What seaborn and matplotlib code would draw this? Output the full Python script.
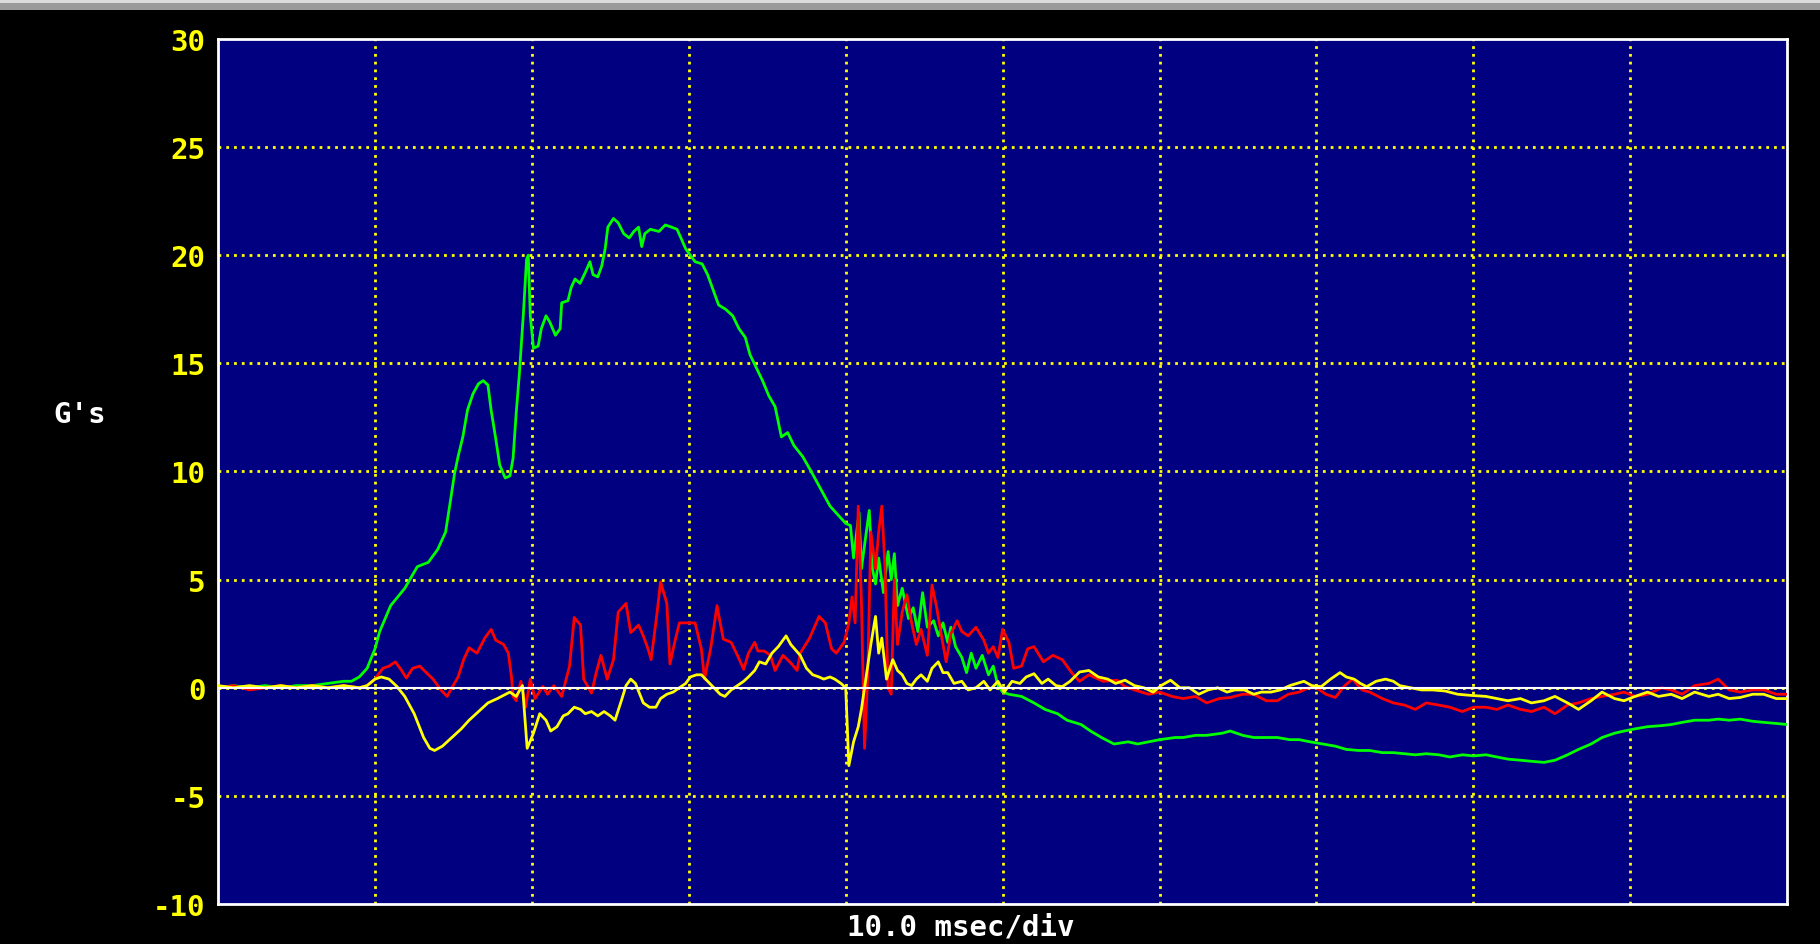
import numpy as np
import pandas as pd
import matplotlib
matplotlib.use("Agg")
import matplotlib.pyplot as plt
from matplotlib.patches import Rectangle
import seaborn as sns

# Channel traces (time in msec, acceleration in G's)
green_t = [0, 1, 2, 3, 4, 5, 6, 7, 8, 8.5, 9, 9.5, 10, 10.3, 11.0, 11.9, 12.7, 13.4, 14.0, 14.5,
           14.8, 15.07, 15.3, 15.6, 15.9, 16.25, 16.6, 16.9, 17.2, 17.4, 17.7, 17.95, 18.3, 18.6,
           18.8, 19.0, 19.2, 19.45, 19.66, 19.77, 19.9, 20.1, 20.4, 20.6, 20.9, 21.15, 21.5, 21.8,
           21.9, 22.3, 22.5, 22.75, 23.07, 23.4, 23.7, 23.9, 24.2, 24.45, 24.67, 24.84, 25.2, 25.5,
           25.85, 26.2, 26.5, 26.8, 27.0, 27.2, 27.55, 28.1, 28.5, 28.9, 29.25, 29.5, 29.8, 30.1,
           30.4, 30.85, 31.2, 31.5, 31.9, 32.35, 32.8, 33.2, 33.6, 33.9, 34.3, 34.7, 35.1, 35.5,
           35.9, 36.3, 36.7, 37.25, 37.8, 38.4, 39.0, 39.5, 40.0, 40.3, 40.5, 40.85, 41.0, 41.2,
           41.5, 41.7, 41.9, 42.1, 42.4, 42.7, 42.9, 43.1, 43.3, 43.6, 44.0, 44.3, 44.6, 44.9,
           45.2, 45.6, 45.9, 46.2, 46.5, 46.7, 47.0, 47.4, 47.7, 48.0, 48.3, 48.7, 49.1, 49.4,
           49.7, 50.0, 50.4, 51.2, 52, 52.7, 53.5, 54.1, 55, 55.6, 56.3, 57.1, 58, 58.6, 59.3, 60,
           61, 61.5, 62.3, 63, 64, 64.5, 65.3, 66, 67, 67.5, 68.3, 68.9, 69.6, 70.4, 71.2, 71.9,
           72.7, 73.4, 74.2, 74.9, 75.6, 76.3, 77, 77.8, 78.5, 79.3, 80, 80.8, 81.5, 82.2, 83,
           83.7, 84.5, 85.2, 86, 86.7, 87.5, 88.2, 89, 89.6, 90.3, 91.1, 92, 92.6, 93.3, 94.1, 95,
           95.6, 96.3, 97, 97.8, 98.5, 99.3, 100]
green_g = [0.0, 0.1, 0.0, 0.1, 0.0, 0.1, 0.1, 0.2, 0.3, 0.3, 0.5, 0.9, 1.8, 2.6, 3.8, 4.6, 5.6, 5.8,
           6.4, 7.2, 8.6, 9.9, 10.7, 11.6, 12.85, 13.6, 14.06, 14.2, 14.0, 12.85, 11.5, 10.3, 9.7,
           9.8, 10.6, 12.7, 14.5, 17.2, 19.8, 20.0, 17.2, 15.7, 15.8, 16.6, 17.2, 16.9, 16.3, 16.6,
           17.8, 17.9, 18.5, 18.9, 18.7, 19.2, 19.7, 19.1, 19.0, 19.5, 20.3, 21.3, 21.7, 21.5, 21.0,
           20.8, 21.1, 21.3, 20.4, 21.0, 21.2, 21.1, 21.4, 21.3, 21.2, 20.8, 20.3, 20.0, 19.7, 19.6,
           19.1, 18.5, 17.7, 17.5, 17.2, 16.6, 16.2, 15.4, 14.8, 14.2, 13.5, 13.0, 11.6, 11.8, 11.2,
           10.7, 10.0, 9.2, 8.4, 8.0, 7.6, 7.5, 6.0, 8.1, 5.5, 6.6, 8.2, 5.5, 4.8, 6.0, 4.4, 6.3,
           5.0, 6.2, 3.8, 4.6, 3.2, 3.7, 2.6, 4.4, 2.8, 3.1, 2.4, 3.0, 2.1, 2.8, 1.9, 1.4, 0.7, 1.6,
           0.9, 1.5, 0.6, 1.0, 0.1, -0.2, -0.3, -0.4, -0.7, -1.0, -1.2, -1.5, -1.7, -2.0, -2.3,
           -2.6, -2.5, -2.6, -2.5, -2.4, -2.3, -2.3, -2.2, -2.2, -2.1, -2.0, -2.2, -2.3, -2.3, -2.3,
           -2.4, -2.4, -2.5, -2.6, -2.7, -2.85, -2.9, -2.9, -3.0, -3.0, -3.05, -3.1, -3.05, -3.1,
           -3.2, -3.1, -3.15, -3.1, -3.2, -3.3, -3.35, -3.4, -3.45, -3.35, -3.1, -2.85, -2.6, -2.3,
           -2.1, -2.0, -1.9, -1.8, -1.75, -1.7, -1.6, -1.5, -1.5, -1.45, -1.5, -1.45, -1.55, -1.6,
           -1.65, -1.7]

red_t = [0, 1, 2, 3, 4, 5, 6, 7, 8, 9, 9.5, 10, 10.5, 10.9, 11.3, 11.7, 12.0, 12.4, 12.85, 13.2,
         13.7, 14.2, 14.6, 14.9, 15.3, 15.65, 16.0, 16.5, 17.0, 17.4, 17.7, 18.2, 18.5, 18.7, 18.8,
         19.0, 19.3, 19.6, 19.9, 20.2, 20.7, 21.0, 21.4, 21.9, 22.4, 22.7, 23.1, 23.3, 23.8, 24.1,
         24.4, 24.8, 25.2, 25.5, 26.0, 26.3, 26.8, 27.1, 27.4, 27.6, 28.0, 28.2, 28.6, 28.8, 29.1,
         29.4, 29.9, 30.4, 30.8, 31.0, 31.4, 31.8, 32.0, 32.2, 32.7, 33.1, 33.5, 33.8, 34.2, 34.4,
         34.8, 35.2, 35.5, 36.0, 36.5, 36.9, 37.1, 37.7, 38.3, 38.7, 39.1, 39.4, 39.9, 40.2, 40.4,
         40.6, 40.8, 41.0, 41.2, 41.4, 41.6, 41.9, 42.1, 42.3, 42.5, 42.7, 42.9, 43.1, 43.3, 43.6,
         43.9, 44.2, 44.5, 44.8, 45.2, 45.5, 45.8, 46.1, 46.4, 46.7, 47.1, 47.4, 47.8, 48.3, 48.8,
         49.1, 49.4, 49.7, 50.0, 50.4, 50.7, 51.2, 51.6, 52.0, 52.6, 53.2, 53.8, 54.4, 54.9, 55.5,
         56.4, 57.3, 57.8, 58.4, 59.3, 60, 60.8, 61.5, 62.3, 63, 63.8, 64.5, 65.3, 66, 66.8, 67.5,
         68.2, 68.9, 69.5, 70, 70.6, 71.2, 71.8, 72.3, 72.9, 73.4, 74.2, 74.9, 75.6, 76.3, 77,
         77.8, 78.5, 79.3, 80, 80.8, 81.5, 82.2, 83, 83.7, 84.5, 85.2, 86, 86.7, 87.5, 88.2, 89,
         89.6, 90.3, 91.1, 92, 92.6, 93.3, 94.1, 95, 95.6, 96.3, 97, 97.8, 98.5, 99.3, 100]
red_g = [0.0, 0.1, -0.1, 0.0, 0.1, 0.0, 0.1, 0.0, 0.1, 0.0, 0.1, 0.4, 0.9, 1.0, 1.2, 0.8, 0.45, 0.9,
         1.0, 0.75, 0.4, -0.1, -0.4, 0.0, 0.5, 1.3, 1.85, 1.6, 2.3, 2.7, 2.2, 2.0, 1.6, 0.5, -0.4,
         -0.6, 0.3, -0.9, 0.4, -0.5, 0.06, -0.3, 0.1, -0.4, 1.0, 3.25, 2.9, 0.4, -0.25, 0.7, 1.5,
         0.4, 1.3, 3.5, 3.9, 2.55, 2.9, 2.4, 1.8, 1.3, 3.6, 4.9, 3.9, 1.1, 2.1, 3.0, 3.0, 3.0, 1.8,
         0.4, 1.85, 3.8, 3.0, 2.25, 2.1, 1.5, 0.85, 1.6, 2.1, 1.7, 1.7, 1.5, 0.8, 1.5, 1.15, 0.8,
         1.6, 2.3, 3.3, 3.0, 1.8, 1.6, 2.1, 3.0, 4.2, 3.0, 8.4, 4.0, -2.8, 0.5, 7.2, 5.5, 7.2, 8.4,
         5.6, 0.0, -0.3, 5.0, 2.0, 3.5, 4.3, 3.0, 2.0, 2.7, 1.5, 4.75, 3.7, 2.4, 1.2, 2.5, 3.1, 2.6,
         2.4, 2.8, 2.2, 1.6, 1.9, 1.4, 2.7, 2.1, 0.9, 1.0, 1.8, 1.9, 1.2, 1.5, 1.3, 0.7, 0.3, 0.6,
         0.3, 0.35, 0.05, -0.1, -0.3, -0.2, -0.4, -0.5, -0.4, -0.7, -0.5, -0.45, -0.3, -0.3, -0.6,
         -0.6, -0.3, -0.2, 0.0, 0.0, -0.3, -0.45, 0.1, 0.4, -0.1, -0.2, -0.5, -0.7, -0.8, -1.0,
         -0.7, -0.8, -0.9, -1.1, -0.9, -0.9, -1.0, -0.8, -1.0, -1.1, -0.9, -1.2, -0.8, -0.7, -0.5,
         -0.4, -0.3, -0.2, -0.4, -0.3, 0.0, -0.1, -0.3, 0.1, 0.2, 0.4, -0.1, -0.2, -0.1, -0.1,
         -0.3, -0.3]

yellow_t = [0, 1, 2, 3, 4, 5, 6, 7, 8, 9, 9.5, 10, 10.4, 10.9, 11.4, 11.9, 12.5, 13.1, 13.5, 13.8,
            14.3, 14.9, 15.5, 16.0, 16.6, 17.2, 17.8, 18.6, 19.0, 19.4, 19.7, 20.1, 20.5, 20.9,
            21.2, 21.6, 22.0, 22.3, 22.7, 23.1, 23.4, 23.8, 24.2, 24.6, 25.0, 25.3, 25.7, 26.0,
            26.3, 26.6, 27.1, 27.5, 27.9, 28.2, 28.6, 29.0, 29.4, 29.8, 30.1, 30.5, 30.8, 31.2,
            31.6, 32.0, 32.3, 32.7, 33.1, 33.5, 33.8, 34.2, 34.5, 34.9, 35.3, 35.7, 36.2, 36.5,
            37.1, 37.5, 37.9, 38.3, 38.6, 39.0, 39.3, 39.7, 40.0, 40.2, 40.5, 40.8, 41.0, 41.2,
            41.4, 41.6, 41.9, 42.1, 42.3, 42.6, 43.0, 43.3, 43.6, 43.9, 44.2, 44.5, 44.8, 45.2,
            45.5, 45.9, 46.2, 46.5, 46.9, 47.4, 47.8, 48.3, 48.8, 49.2, 49.7, 50.1, 50.6, 51.1,
            51.5, 52.0, 52.5, 52.9, 53.4, 53.8, 54.3, 54.9, 55.5, 56.1, 56.7, 57.2, 57.8, 58.4,
            59.0, 59.6, 60.1, 60.7, 61.3, 61.9, 62.5, 63.1, 63.7, 64.3, 64.8, 65.4, 66, 66.5, 67.1,
            67.7, 68.3, 69.2, 69.7, 70.3, 70.9, 71.5, 71.9, 72.4, 72.8, 73.2, 73.8, 74.4, 74.9,
            75.3, 76, 76.7, 77.4, 78.2, 79, 79.8, 80.8, 81.5, 82.2, 83, 83.7, 84.5, 85.2, 86, 86.7,
            87.5, 88.2, 89, 89.6, 90.3, 91.1, 91.8, 92.6, 93.3, 94.1, 95, 95.6, 96.3, 97, 97.8,
            98.5, 99.3, 100]
yellow_g = [0.1, 0.0, 0.1, 0.0, 0.1, 0.0, 0.1, 0.0, 0.1, 0.0, 0.1, 0.4, 0.5, 0.4, 0.06, -0.4, -1.2,
            -2.3, -2.8, -2.9, -2.7, -2.3, -1.9, -1.5, -1.1, -0.7, -0.5, -0.2, -0.4, 0.1, -2.8, -2.1,
            -1.2, -1.5, -2.0, -1.8, -1.3, -1.2, -0.9, -1.0, -1.2, -1.1, -1.3, -1.1, -1.3, -1.5,
            -0.6, 0.1, 0.4, 0.2, -0.7, -0.9, -0.9, -0.5, -0.3, -0.2, 0.0, 0.2, 0.5, 0.6, 0.6, 0.3,
            0.0, -0.3, -0.4, -0.1, 0.1, 0.3, 0.5, 0.8, 1.2, 1.1, 1.6, 1.9, 2.4, 2.0, 1.5, 0.9, 0.6,
            0.5, 0.4, 0.5, 0.4, 0.2, 0.0, -3.6, -2.5, -1.8, -1.0, 0.0, 1.0, 2.0, 3.3, 1.6, 2.3, 0.4,
            1.3, 0.8, 0.6, 0.2, 0.1, 0.4, 0.6, 0.3, 0.9, 1.2, 0.7, 0.7, 0.2, 0.3, -0.1, 0.0, 0.3,
            -0.1, 0.3, -0.2, 0.3, 0.2, 0.5, 0.65, 0.2, 0.4, 0.1, 0.05, 0.3, 0.73, 0.8, 0.5, 0.4,
            0.2, 0.35, 0.1, 0.0, -0.2, 0.1, 0.35, 0.0, 0.0, -0.3, -0.1, 0.0, -0.2, -0.1, -0.1, -0.3,
            -0.2, -0.2, -0.1, 0.1, 0.3, 0.1, 0.05, 0.4, 0.7, 0.5, 0.4, 0.2, 0.05, 0.3, 0.4, 0.3,
            0.1, 0.0, -0.1, -0.1, -0.15, -0.3, -0.35, -0.4, -0.5, -0.6, -0.5, -0.7, -0.6, -0.4,
            -0.7, -1.0, -0.6, -0.2, -0.5, -0.6, -0.4, -0.2, -0.4, -0.3, -0.5, -0.2, -0.4, -0.3,
            -0.5, -0.45, -0.3, -0.3, -0.5, -0.5]

y_ticks = [-10, -5, 0, 5, 10, 15, 20, 25, 30]
x_grid = [10, 20, 30, 40, 50, 60, 70, 80, 90]

green = pd.DataFrame({"t": green_t, "g": green_g})
red = pd.DataFrame({"t": red_t, "g": red_g})
yellow = pd.DataFrame({"t": yellow_t, "g": yellow_g})

sns.set_style("dark")
plt.rcParams["font.family"] = ["DejaVu Sans Mono", "DejaVu Sans"]

fig = plt.figure(figsize=(18.2, 9.45), dpi=100, facecolor="black")
ax = fig.add_axes([0.1198, 0.0423, 0.8622, 0.9154])
ax.set_facecolor("#000080")

# grey title strip at the very top of the screen
fig.add_artist(Rectangle((0, 1 - 11 / 945), 1, 11 / 945, transform=fig.transFigure,
                         facecolor="#9a9a9a", edgecolor="none"))
fig.add_artist(Rectangle((0, 1 - 4 / 945), 1, 3 / 945, transform=fig.transFigure,
                         facecolor="#dcdcdc", edgecolor="none"))

# dotted yellow graticule
for xv in x_grid:
    ax.axvline(xv, color="#ffff00", lw=2.0, ls=(0, (1, 1.8)), zorder=1)
for yv in y_ticks[1:-1]:
    ax.axhline(yv, color="#ffff00", lw=2.0, ls=(0, (1, 1.8)), zorder=1)

sns.lineplot(data=green, x="t", y="g", color="#00ff00", lw=2.0, estimator=None, sort=False, ax=ax, zorder=3)
sns.lineplot(data=red, x="t", y="g", color="#ff0000", lw=2.0, estimator=None, sort=False, ax=ax, zorder=4)
sns.lineplot(data=yellow, x="t", y="g", color="#ffff00", lw=2.0, estimator=None, sort=False, ax=ax, zorder=5)

ax.axhline(0, color="white", lw=1.5, zorder=6)

ax.set_xlim(0, 100)
ax.set_ylim(-10, 30)
ax.set_xticks([])
ax.set_yticks(y_ticks)
ax.set_yticklabels([str(v) for v in y_ticks], color="#ffff00", fontsize=21, fontweight="bold")
ax.tick_params(axis="y", length=0, pad=9)
ax.set_xlabel("")
ax.set_ylabel("")
ax.grid(False)
for s in ax.spines.values():
    s.set_visible(True)
    s.set_color("white")
    s.set_linewidth(2)

fig.text(0.044, 0.561, "G's", color="white", fontsize=21, fontweight="bold", ha="center", va="center")
fig.text(0.528, 0.018, "10.0 msec/div", color="white", fontsize=21, fontweight="bold",
         ha="center", va="center")

fig.savefig("out.png", dpi=100, facecolor="black")
